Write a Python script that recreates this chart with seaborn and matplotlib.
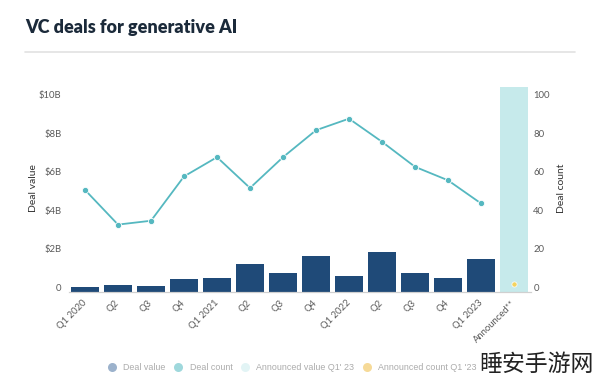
import numpy as np
import pandas as pd
import matplotlib
matplotlib.use("Agg")
import matplotlib.pyplot as plt
import matplotlib.transforms as mtransforms
from matplotlib.lines import Line2D
import seaborn as sns

# ---- data ----
periods = ["Q1 2020", "Q2 2020", "Q3 2020", "Q4 2020",
           "Q1 2021", "Q2 2021", "Q3 2021", "Q4 2021",
           "Q1 2022", "Q2 2022", "Q3 2022", "Q4 2022",
           "Q1 2023", "Announced"]
tick_labels = ["Q1 2020", "Q2", "Q3", "Q4", "Q1 2021", "Q2", "Q3", "Q4",
               "Q1 2022", "Q2", "Q3", "Q4", "Q1 2023", "Announced**"]
deal_value = [0.24, 0.36, 0.33, 0.67, 0.71, 1.47, 0.98, 1.88,
              0.81, 2.09, 0.97, 0.74, 1.69, np.nan]       # $B
deal_count = [53, 35, 37, 60, 70, 54, 70, 84, 90, 78, 65, 58, 46]
announced_value = [np.nan] * 13 + [10.65]                # $B
announced_count = 4

left_ticks = [0, 2, 4, 6, 8, 10]
left_tick_labels = ["0", "$2B", "$4B", "$6B", "$8B", "$10B"]
right_ticks = [0, 20, 40, 60, 80, 100]

# ---- style ----
sns.set_theme(style="white")
plt.rcParams["font.family"] = ["Lato", "DejaVu Sans"]

NAVY = "#1f4a78"
TEAL = "#55b8c0"
LIGHT = "#c6eaeb"
YELLOW = "#f3d35f"
TICK = "#5a5a5a"

fig = plt.figure(figsize=(6, 3.84), dpi=100)
ax = fig.add_axes([68.5 / 600, 92 / 384, 462 / 600, 208 / 384])

df = pd.DataFrame({"period": periods, "value": deal_value,
                   "announced": announced_value})

sns.barplot(data=df, x="period", y="announced", order=periods, color=LIGHT,
            saturation=1, width=0.87, ax=ax, linewidth=0)
sns.barplot(data=df, x="period", y="value", order=periods, color=NAVY,
            saturation=1, width=0.87, ax=ax, linewidth=0)

ax.set_ylim(0, 10.8)
ax.set_xlim(-0.5, len(periods) - 0.5)
ax.set_yticks(left_ticks)
ax.set_yticklabels(left_tick_labels)
ax.set_xticks(range(len(periods)))
ax.set_xticklabels(tick_labels, rotation=45, ha="right", va="center",
                   rotation_mode="anchor")
ax.set_xlabel("")
ax.set_ylabel("Deal value", fontsize=7.5, color="#333333", labelpad=1)
ax.tick_params(axis="y", length=0, pad=5, labelsize=6.8, labelcolor=TICK)
ax.tick_params(axis="x", length=0, pad=7, labelsize=6.8, labelcolor=TICK)

ax2 = ax.twinx()
sns.lineplot(x=np.arange(len(deal_count)), y=deal_count, ax=ax2, color=TEAL,
             linewidth=1.3, marker="o", markersize=4.5,
             markeredgecolor="white", markeredgewidth=0.6)
ax2.scatter([len(periods) - 1], [announced_count], s=14, color=YELLOW,
            edgecolor="white", linewidth=0.5, zorder=5)
ax2.set_ylim(0, 108)
ax2.set_yticks(right_ticks)
ax2.set_ylabel("Deal count", fontsize=7.5, color="#333333", labelpad=5)
ax2.tick_params(axis="y", length=0, pad=2, labelsize=6.8, labelcolor=TICK)

for a in (ax, ax2):
    for side in ("top", "left", "right"):
        a.spines[side].set_visible(False)
    a.spines["bottom"].set_color("#d0d0d0")
    a.spines["bottom"].set_linewidth(0.8)
    a.grid(False)

# shift y tick labels slightly up as in the reference
shift = mtransforms.ScaledTranslation(0, 0.045, fig.dpi_scale_trans)
for lab in ax.get_yticklabels() + ax2.get_yticklabels():
    lab.set_transform(lab.get_transform() + shift)

# title and rule
fig.text(25 / 600, 1 - 28 / 384, "VC deals for generative AI",
         fontsize=13, fontweight="heavy", color="#1b2a3a", va="center",
         ha="left")
fig.add_artist(Line2D([25 / 600, 575 / 600], [1 - 52 / 384] * 2,
                      color="#e2e2e2", linewidth=1.2))

# legend (faded)
handles = [
    Line2D([], [], marker="o", linestyle="", markersize=6.5,
           markerfacecolor="#9cb2cc", markeredgecolor="none"),
    Line2D([], [], marker="o", linestyle="", markersize=6.5,
           markerfacecolor="#9fd8dc", markeredgecolor="none"),
    Line2D([], [], marker="o", linestyle="", markersize=6.5,
           markerfacecolor="#e2f4f5", markeredgecolor="none"),
    Line2D([], [], marker="o", linestyle="", markersize=6.5,
           markerfacecolor="#f6da98", markeredgecolor="none"),
]
leg = fig.legend(handles,
                 ["Deal value", "Deal count", "Announced value Q1' 23",
                  "Announced count Q1 '23"],
                 loc="center", bbox_to_anchor=(292 / 600, 1 - 368 / 384),
                 ncol=4, frameon=False, fontsize=6.4, handletextpad=0.8,
                 columnspacing=0.9, handlelength=1.0, borderpad=0,
                 borderaxespad=0)
for t in leg.get_texts():
    t.set_color("#ababab")
    t.set_family(["Liberation Sans", "DejaVu Sans"])

# watermark text present in the reference image
fig.text(479 / 600, 1 - 364 / 384, "睡安手游网", fontsize=16.5,
         family=["Noto Sans CJK SC", "DejaVu Sans"], fontweight="light",
         color="#222222", ha="left", va="center")

fig.savefig("out.png", dpi=100)
